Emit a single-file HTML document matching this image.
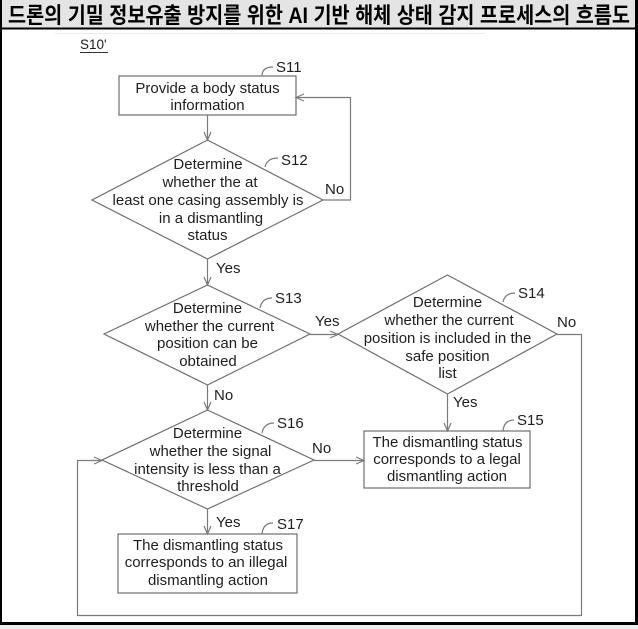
<!DOCTYPE html>
<html>
<head>
<meta charset="utf-8">
<style>
html,body{margin:0;padding:0;background:#fff;}
svg{display:block;}
.t{font-family:"Liberation Sans",Arial,sans-serif;font-size:15px;fill:#1e1e1e;text-anchor:middle;}
.l{font-family:"Liberation Sans",Arial,sans-serif;font-size:15px;fill:#1e1e1e;}
.s{fill:none;stroke:#7a7a7a;stroke-width:1.2;}
.b{fill:#fff;stroke:#6e6e6e;stroke-width:1.2;}
</style>
</head>
<body>
<svg width="638" height="629" viewBox="0 0 638 629" xmlns="http://www.w3.org/2000/svg">
  <!-- frame -->
  <rect x="0" y="0" width="638" height="629" fill="#fff"/>
  <rect x="0" y="0" width="638" height="27.5" fill="#e4e4e4"/>
  <rect x="0" y="27.5" width="638" height="2" fill="#000"/>
  <rect x="0" y="0" width="2" height="625" fill="#000"/>
  <rect x="635" y="0" width="3" height="625" fill="#000"/>
  <rect x="0" y="622" width="638" height="3" fill="#000"/>
  <rect x="0" y="625" width="638" height="4" fill="#eeeeee"/>
  <text x="8" y="23" textLength="622" lengthAdjust="spacingAndGlyphs" style="font-family:'Liberation Sans','Noto Sans CJK KR',sans-serif;font-size:22px;font-weight:bold;fill:#000;">드론의 기밀 정보유출 방지를 위한 AI 기반 해체 상태 감지 프로세스의 흐름도</text>

  <line x1="55" y1="33.5" x2="485" y2="33.5" stroke="#ececec" stroke-width="1"/>

  <!-- S10' -->
  <text x="80" y="49" style="font-family:'Liberation Sans',Arial,sans-serif;font-size:13.5px;fill:#1e1e1e;">S10'</text>
  <line x1="80" y1="52.5" x2="108" y2="52.5" stroke="#333" stroke-width="1"/>

  <!-- S11 box -->
  <rect class="b" x="119" y="76" width="177" height="39"/>
  <text class="t" x="207.5" y="93">Provide a body status</text>
  <text class="t" x="207.5" y="110">information</text>
  <path class="s" d="M262,76 Q262,67 273,67"/>
  <text class="l" x="276" y="72">S11</text>

  <!-- S12 diamond -->
  <polygon class="b" points="207.5,140 323,200 207.5,259 92,200"/>
  <text class="t" x="208" y="169">Determine</text>
  <text class="t" x="210" y="187">whether the at</text>
  <text class="t" x="208" y="205">least one casing assembly is</text>
  <text class="t" x="211" y="223">in a dismantling</text>
  <text class="t" x="207.5" y="240">status</text>
  <path class="s" d="M265,167 Q267,158 278,158"/>
  <text class="l" x="281" y="165">S12</text>
  <text class="l" x="325" y="194">No</text>

  <!-- S13 diamond -->
  <polygon class="b" points="207.5,285 310,334 207.5,385 104,334"/>
  <text class="t" x="207.5" y="313">Determine</text>
  <text class="t" x="209.5" y="331">whether the current</text>
  <text class="t" x="207.5" y="348">position can be</text>
  <text class="t" x="208" y="366">obtained</text>
  <path class="s" d="M260,308 Q262,298 272,298"/>
  <text class="l" x="275" y="303">S13</text>
  <text class="l" x="315" y="326">Yes</text>
  <text class="l" x="216" y="273">Yes</text>
  <text class="l" x="214" y="400">No</text>

  <!-- S14 diamond -->
  <polygon class="b" points="447.5,275 557,334 447.5,394 338,334"/>
  <text class="t" x="447.5" y="307">Determine</text>
  <text class="t" x="449" y="325">whether the current</text>
  <text class="t" x="447.5" y="343">position is included in the</text>
  <text class="t" x="447.5" y="361">safe position</text>
  <text class="t" x="447.5" y="378">list</text>
  <path class="s" d="M503,302 Q505,293 515,293"/>
  <text class="l" x="518" y="298">S14</text>
  <text class="l" x="557" y="327">No</text>
  <text class="l" x="453" y="407">Yes</text>

  <!-- S15 box -->
  <rect class="b" x="364" y="431" width="166" height="57"/>
  <text class="t" x="447.5" y="447">The dismantling status</text>
  <text class="t" x="447" y="464">corresponds to a legal</text>
  <text class="t" x="447" y="481">dismantling action</text>
  <path class="s" d="M503,431 Q504,420 514,420"/>
  <text class="l" x="517" y="425">S15</text>

  <!-- S16 diamond -->
  <polygon class="b" points="207.5,410 314,460 207.5,509 102,460"/>
  <text class="t" x="207.5" y="438">Determine</text>
  <text class="t" x="210.5" y="456">whether the signal</text>
  <text class="t" x="207.5" y="474">intensity is less than a</text>
  <text class="t" x="208" y="491">threshold</text>
  <path class="s" d="M262,433 Q264,423 274,423"/>
  <text class="l" x="277" y="428">S16</text>
  <text class="l" x="312" y="453">No</text>
  <text class="l" x="216" y="527">Yes</text>

  <!-- S17 box -->
  <rect class="b" x="118" y="534" width="179" height="59"/>
  <text class="t" x="208" y="550">The dismantling status</text>
  <text class="t" x="206" y="567">corresponds to an illegal</text>
  <text class="t" x="208" y="585">dismantling action</text>
  <path class="s" d="M262,534 Q263,523 273,523"/>
  <text class="l" x="277" y="529">S17</text>

  <!-- connectors -->
  <!-- S11 -> S12 -->
  <line class="s" x1="207.5" y1="115" x2="207.5" y2="140"/>
  <polyline class="s" points="204,132 207.5,140 211,132"/>
  <!-- S12 No loop -->
  <polyline class="s" points="323,200 350.5,200 350.5,97.5 296,97.5"/>
  <polyline class="s" points="304,94 296,97.5 304,101"/>
  <!-- S12 -> S13 -->
  <line class="s" x1="207.5" y1="259" x2="207.5" y2="285"/>
  <polyline class="s" points="204,277 207.5,285 211,277"/>
  <!-- S13 -> S14 -->
  <line class="s" x1="310" y1="334.5" x2="338" y2="334.5"/>
  <polyline class="s" points="330,331 338,334.5 330,338"/>
  <!-- S13 -> S16 -->
  <line class="s" x1="207.5" y1="385" x2="207.5" y2="410"/>
  <polyline class="s" points="204,402 207.5,410 211,402"/>
  <!-- S14 -> S15 -->
  <line class="s" x1="447.5" y1="394" x2="447.5" y2="431"/>
  <polyline class="s" points="444,423 447.5,431 451,423"/>
  <!-- S14 No loop -->
  <polyline class="s" points="557,334.5 581.5,334.5 581.5,615.5 77.5,615.5 77.5,460.5 102,460.5"/>
  <polyline class="s" points="94,457 102,460.5 94,464"/>
  <!-- S16 -> S15 -->
  <line class="s" x1="314" y1="460.5" x2="364" y2="460.5"/>
  <polyline class="s" points="356,457 364,460.5 356,464"/>
  <!-- S16 -> S17 -->
  <line class="s" x1="207.5" y1="509" x2="207.5" y2="534"/>
  <polyline class="s" points="204,526 207.5,534 211,526"/>
</svg>
</body>
</html>
